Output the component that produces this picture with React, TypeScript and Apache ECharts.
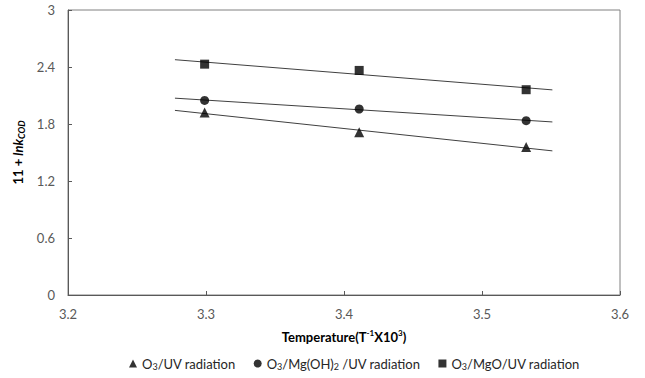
import React, { useEffect, useRef } from 'react';
import * as echarts from 'echarts';

// Data
const xValues = [3.299, 3.411, 3.532];
const o3UV = [1.922, 1.712, 1.558];
const o3MgOH2UV = [2.048, 1.958, 1.835];
const o3MgOUV = [2.43, 2.364, 2.161];
const seriesNames = ['O3/UV radiation', 'O3/Mg(OH)2 /UV radiation', 'O3/MgO/UV radiation'];
const legendLabels = [
  '{n|O}{s|3}{n|/UV radiation}',
  '{n|O}{s|3}{n|/Mg(OH)}{s|2}{n| /UV radiation}',
  '{n|O}{s|3}{n|/MgO/UV radiation}',
];
const symbols = ['triangle', 'circle', 'rect'];
const trendRange = [3.2775, 3.551];
const yTicks = [0, 0.6, 1.2, 1.8, 2.4, 3];
const xTicks = [3.2, 3.3, 3.4, 3.5, 3.6];

const FONT = 'Lato, "Open Sans", sans-serif';

function fitLine(xs: number[], ys: number[]) {
  const n = xs.length;
  const mx = xs.reduce((a, b) => a + b, 0) / n;
  const my = ys.reduce((a, b) => a + b, 0) / n;
  let sxy = 0, sxx = 0;
  for (let i = 0; i < n; i++) {
    sxy += (xs[i] - mx) * (ys[i] - my);
    sxx += (xs[i] - mx) * (xs[i] - mx);
  }
  const k = sxy / sxx;
  return trendRange.map((x) => [x, my + k * (x - mx)]);
}

export default function App() {
  const ref = useRef<HTMLDivElement>(null);
  useEffect(() => {
    if (!ref.current) return;
    const chart = echarts.init(ref.current, null, { renderer: 'svg' });
    const allY = [o3UV, o3MgOH2UV, o3MgOUV];
    const series: any[] = [];
    allY.forEach((ys) => {
      series.push({
        type: 'line',
        data: fitLine(xValues, ys),
        symbol: 'none',
        silent: true,
        lineStyle: { color: '#404040', width: 1 },
        z: 1,
      });
    });
    allY.forEach((ys, i) => {
      series.push({
        name: seriesNames[i],
        type: 'scatter',
        symbol: symbols[i],
        symbolSize: symbols[i] === 'triangle' ? 10 : 9,
        itemStyle: { color: '#000' },
        data: xValues.map((x, j) => [x, ys[j]]),
        z: 3,
      });
    });
    chart.setOption({
      animation: false,
      backgroundColor: '#fff',
      grid: {
        left: 68,
        right: 25,
        top: 10,
        bottom: 83,
        show: true,
        borderColor: '#808080',
        borderWidth: 1,
      },
      xAxis: {
        type: 'value',
        min: xTicks[0],
        max: xTicks[xTicks.length - 1],
        interval: 0.1,
        name: '{b|Temperature(T}{sup|-1}{b|X10}{sup|3}{b|)}',
        nameLocation: 'middle',
        nameGap: 34,
        nameTextStyle: {
          rich: {
            b: { fontFamily: FONT, fontSize: 13, fontWeight: 'bold', color: '#000' },
            sup: { fontFamily: FONT, fontSize: 8, fontWeight: 'bold', color: '#000', padding: [0, 0, 7, 0] },
          },
        },
        axisLine: { show: true, lineStyle: { color: '#595959', width: 1 } },
        axisTick: { show: true, inside: true, length: 4, lineStyle: { color: '#595959' } },
        splitLine: { show: false },
        axisLabel: {
          margin: 12,
          fontFamily: FONT,
          fontSize: 13,
          color: '#595959',
          formatter: (v: number) => v.toFixed(1),
        },
      },
      yAxis: {
        type: 'value',
        min: yTicks[0],
        max: yTicks[yTicks.length - 1],
        interval: 0.6,
        name: '{b|11 + }{bi|lnk}{si|COD}',
        nameLocation: 'middle',
        nameRotate: 90,
        nameGap: 40,
        nameTextStyle: {
          rich: {
            b: { fontFamily: FONT, fontSize: 13, fontWeight: 'bold', color: '#000' },
            bi: { fontFamily: FONT, fontSize: 13, fontWeight: 'bold', fontStyle: 'italic', color: '#000' },
            si: { fontFamily: FONT, fontSize: 9, fontWeight: 'bold', fontStyle: 'italic', color: '#000', padding: [6, 0, 0, 0] },
          },
        },
        axisLine: { show: true, lineStyle: { color: '#595959', width: 1 } },
        axisTick: { show: true, inside: true, length: 4, lineStyle: { color: '#595959' } },
        splitLine: { show: false },
        axisLabel: {
          margin: 13,
          fontFamily: FONT,
          fontSize: 13,
          color: '#595959',
          formatter: (v: number) => String(Math.round(v * 10) / 10),
        },
      },
      legend: {
        bottom: 2,
        left: 124,
        itemWidth: 8,
        itemHeight: 8,
        itemGap: 18,
        data: seriesNames.map((n, i) => ({ name: n, icon: symbols[i] })),
        formatter: (name: string) => legendLabels[seriesNames.indexOf(name)],
        textStyle: {
          rich: {
            n: { fontFamily: FONT, fontSize: 13, color: '#262626' },
            s: { fontFamily: FONT, fontSize: 9, color: '#262626', padding: [6, 0, 0, 0] },
          },
        },
        itemStyle: { color: '#000' },
        selectedMode: false,
      },
      series,
    });
    return () => chart.dispose();
  }, []);
  return <div ref={ref} style={{ width: 645, height: 378, position: 'absolute', left: 0, top: 0 }} />;
}
